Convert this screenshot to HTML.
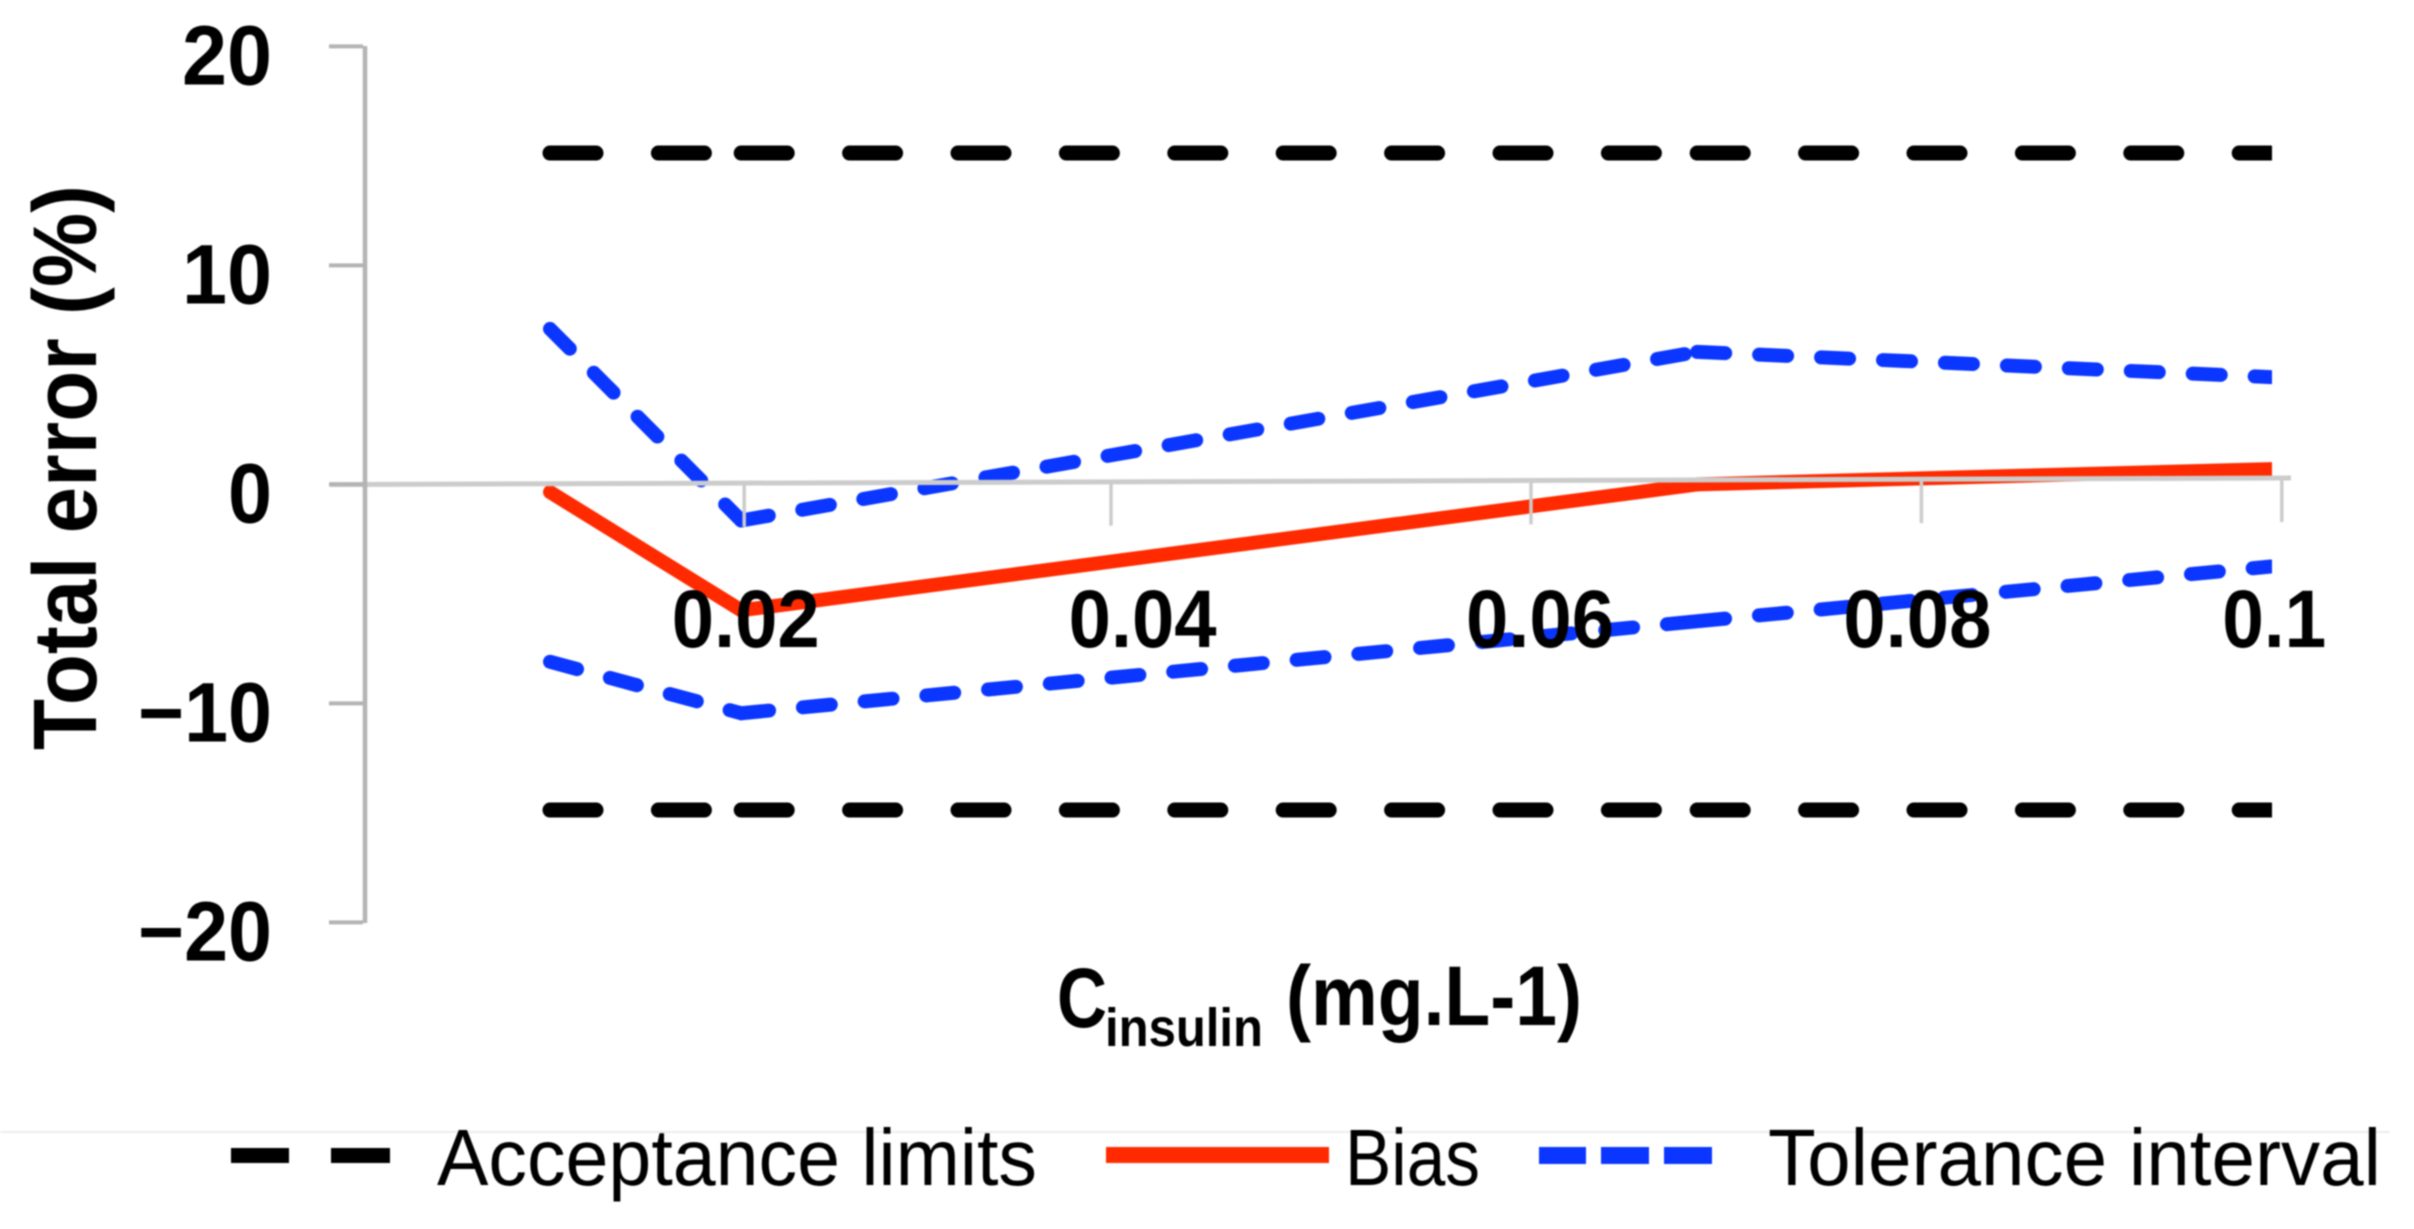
<!DOCTYPE html>
<html lang="en">
<head>
<meta charset="utf-8">
<title>Total error profile</title>
<style>
  html, body { margin: 0; padding: 0; background: #fff; width: 2414px; height: 1229px; overflow: hidden; }
  svg { display: block; filter: blur(0.8px); }
  text { font-family: "Liberation Sans", sans-serif; fill: #000; }
</style>
</head>
<body>
<svg id="chart" xmlns="http://www.w3.org/2000/svg" width="2414" height="1229" viewBox="0 0 2414 1229">
  <defs>
    <clipPath id="plot-clip"><rect x="0" y="0" width="2272" height="1100"/></clipPath>
  </defs>
  <g id="series-layer" clip-path="url(#plot-clip)"></g>
  <g id="axis-layer"></g>
  <g id="label-layer"></g>

  <text transform="translate(96 750) rotate(-90)" font-size="90" font-weight="700" textLength="565" lengthAdjust="spacingAndGlyphs">Total error (%)</text>

  <g>
    <text x="1057" y="1027" font-size="84" font-weight="700" textLength="50" lengthAdjust="spacingAndGlyphs">C</text>
    <text x="1105" y="1046" font-size="54" font-weight="700" textLength="158" lengthAdjust="spacingAndGlyphs">insulin</text>
    <text x="1286" y="1025" font-size="84" font-weight="700" textLength="296" lengthAdjust="spacingAndGlyphs">(mg.L-1)</text>
  </g>

  <line x1="0" y1="1132" x2="2390" y2="1132" stroke="#eeeeee" stroke-width="2"/>

  <g>
    <g>
      <rect x="231" y="1148" width="58" height="15" fill="#000"/>
      <rect x="331" y="1148" width="59" height="15" fill="#000"/>
      <text x="437" y="1185" font-size="80" textLength="600" lengthAdjust="spacingAndGlyphs">Acceptance limits</text>
    </g>
    <g>
      <rect x="1106" y="1147" width="223" height="16" fill="#ff2a00"/>
      <text x="1345" y="1185" font-size="80" textLength="135" lengthAdjust="spacingAndGlyphs">Bias</text>
    </g>
    <g>
      <rect x="1539" y="1147" width="47" height="17" fill="#0a36ff"/>
      <rect x="1601" y="1147" width="48" height="17" fill="#0a36ff"/>
      <rect x="1664" y="1147" width="48" height="17" fill="#0a36ff"/>
      <text x="1768" y="1185" font-size="80" textLength="613" lengthAdjust="spacingAndGlyphs">Tolerance interval</text>
    </g>
  </g>
</svg>

<script>
// Chart data
const concentrations = [0.01, 0.02, 0.07, 0.1];
const upperAcceptance = [15.13, 15.13, 15.13, 15.13];
const lowerAcceptance = [-14.87, -14.87, -14.87, -14.87];
const upperTolerance = [7.1, -1.65, 6.05, 4.9];
const bias = [-0.35, -5.75, 0.0, 0.7];
const lowerTolerance = [-8.1, -10.45, -6.25, -3.75];
const xTickValues = [0.02, 0.04, 0.06, 0.08, 0.1];
const xTickLabels = ["0.02", "0.04", "0.06", "0.08", "0.1"];
const yTickValues = [20, 10, 0, -10, -20];
const yTickLabels = ["20", "10", "0", "\u221210", "\u221220"];

const NS = "http://www.w3.org/2000/svg";
const xScale = v => 550 + (v - 0.01) * 19120;
const yScale = v => 484.4 - 21.9 * v;

const seriesLayer = document.getElementById("series-layer");
const axisLayer = document.getElementById("axis-layer");
const labelLayer = document.getElementById("label-layer");

function make(tag, attrs, parent) {
  const el = document.createElementNS(NS, tag);
  for (const k in attrs) el.setAttribute(k, attrs[k]);
  parent.appendChild(el);
  return el;
}

// Each segment restarts its dash pattern at a data point.
function drawSeries(values, name, style) {
  const group = make("g", {}, seriesLayer);
  
  
  for (let i = 0; i < values.length - 1; i++) {
    const seg = make("line", {
      x1: xScale(concentrations[i]), y1: yScale(values[i]),
      x2: xScale(concentrations[i + 1]), y2: yScale(values[i + 1]),
      stroke: style.color, "stroke-width": style.width,
      "stroke-linecap": "round"
    }, group);
    if (style.dash) seg.setAttribute("stroke-dasharray", style.dash);
    
    
  }
}

drawSeries(upperAcceptance, "upper-acceptance-limit", { color: "#000000", width: 15, dash: "46 62.4" });
drawSeries(lowerAcceptance, "lower-acceptance-limit", { color: "#000000", width: 15, dash: "46 62.4" });
drawSeries(upperTolerance, "upper-tolerance-interval", { color: "#0a36ff", width: 14, dash: "28 34" });
drawSeries(lowerTolerance, "lower-tolerance-interval", { color: "#0a36ff", width: 14, dash: "28 34" });
drawSeries(bias, "bias-line", { color: "#ff2a00", width: 14 });

// Axis lines
const zeroAtX = x => 484 - (x - 365) * (6 / 1925);

const xAxisLine = make("line", { x1: 330, y1: 484.5, x2: 2291, y2: zeroAtX(2291), stroke: "#cccccc", "stroke-width": 5 }, axisLayer);



const yAxisLine = make("line", { x1: 365, y1: 46, x2: 365, y2: 923, stroke: "#b4b4b4", "stroke-width": 4.5 }, axisLayer);



// The reference's tick positions sit slightly off the data scale.
const xTickNudge = [3, -12.6, 25, 33, 11];
const xLabelNudge = [4.5, 19, 34, 29, 3.5];

xTickValues.forEach((v, i) => {
  const tx = xScale(v) + xTickNudge[i];
  const top = zeroAtX(tx);
  const tick = make("line", { x1: tx, y1: top, x2: tx, y2: top + 44, stroke: "#cccccc", "stroke-width": 3.5 }, axisLayer);
  
  

  const label = make("text", {
    x: xScale(v) + xLabelNudge[i], y: 647, "text-anchor": "middle",
    "font-size": 82, "font-weight": 700,
    textLength: xTickLabels[i].length === 4 ? 148 : 104, lengthAdjust: "spacingAndGlyphs"
  }, labelLayer);
  label.textContent = xTickLabels[i];
  
  
});

const yBaselineOffset = 38;
yTickValues.forEach((v, i) => {
  const ty = yScale(v);
  const tick = make("line", { x1: 329, y1: ty, x2: 363, y2: ty, stroke: "#b4b4b4", "stroke-width": 4 }, axisLayer);
  
  

  const text = yTickLabels[i];
  const label = make("text", {
    x: 272, y: ty + yBaselineOffset, "text-anchor": "end",
    "font-size": 84, "font-weight": 700,
    textLength: text.length === 3 ? 134 : (text.length === 2 ? 90 : 44), lengthAdjust: "spacingAndGlyphs"
  }, labelLayer);
  label.textContent = text;
  
  
});
</script>
</body>
</html>
